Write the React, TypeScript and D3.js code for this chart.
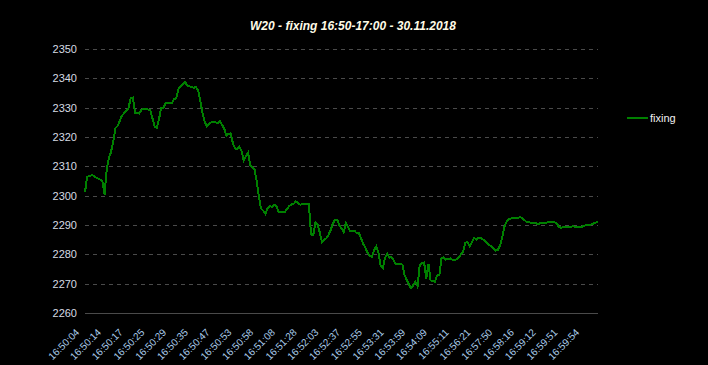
import React, { useEffect, useRef } from 'react';
import * as d3 from 'd3';

const title = 'W20 - fixing 16:50-17:00 - 30.11.2018';
const seriesName = 'fixing';

// every 10th point gets a time label
const timeLabels = [
  '16:50:04', '16:50:14', '16:50:17', '16:50:25', '16:50:29', '16:50:35',
  '16:50:47', '16:50:53', '16:50:58', '16:51:08', '16:51:28', '16:52:03',
  '16:52:37', '16:52:55', '16:53:31', '16:53:59', '16:54:09', '16:55:11',
  '16:56:21', '16:57:50', '16:58:16', '16:59:12', '16:59:51', '16:59:54',
];
const labelEvery = 10;

const yTicks = [2260, 2270, 2280, 2290, 2300, 2310, 2320, 2330, 2340, 2350];

const fixing = [
  2301.2, 2306.5, 2306.6, 2307.0, 2306.8, 2306.2, 2305.8, 2305.5, 2305.0, 2300.4,
  2309.0, 2312.8, 2315.0, 2318.5, 2323.0, 2323.8, 2325.5, 2327.3, 2328.1, 2329.0,
  2329.8, 2333.2, 2333.4, 2328.3, 2328.3, 2328.0, 2329.3, 2329.5, 2329.5, 2329.4,
  2329.2, 2326.5, 2323.6, 2323.2, 2325.9, 2329.8, 2329.8, 2331.4, 2331.6, 2331.5,
  2331.6, 2332.9, 2333.2, 2336.4, 2337.3, 2338.1, 2338.8, 2337.6, 2337.3, 2337.1,
  2336.8, 2337.0, 2336.0, 2332.5, 2328.5, 2325.3, 2323.6, 2324.5, 2325.0, 2325.2,
  2325.0, 2324.7, 2325.5, 2324.1, 2323.0, 2320.5, 2321.0, 2321.2, 2318.0, 2316.1,
  2315.9, 2316.7, 2315.3, 2312.0, 2313.5, 2314.6, 2310.4, 2309.6, 2308.9, 2305.0,
  2299.5, 2295.6, 2294.9, 2293.8, 2295.8, 2296.4, 2296.2, 2296.9, 2296.5, 2294.5,
  2294.5, 2294.6, 2294.5, 2295.5, 2296.5, 2297.0, 2297.2, 2298.0, 2297.6, 2296.9,
  2297.2, 2297.2, 2297.2, 2297.1, 2286.8, 2286.6, 2290.8, 2290.2, 2287.5, 2284.1,
  2285.0, 2285.4, 2286.6, 2288.2, 2290.5, 2291.8, 2291.8, 2290.0, 2288.8, 2287.6,
  2290.6, 2289.4, 2287.8, 2288.0, 2288.0, 2287.2, 2287.2, 2285.5, 2283.6, 2282.2,
  2280.5, 2279.5, 2279.2, 2281.5, 2282.7, 2280.5, 2276.0, 2275.3, 2278.8, 2280.2,
  2278.9, 2279.1, 2278.0, 2276.6, 2276.7, 2276.8, 2276.5, 2273.0, 2271.2, 2269.8,
  2268.4, 2269.5, 2270.7, 2269.1, 2276.4, 2277.0, 2277.2, 2271.8, 2276.8, 2271.1,
  2270.9, 2270.7, 2272.8, 2272.9, 2278.7, 2279.0, 2278.2, 2278.4, 2278.6, 2278.2,
  2278.1, 2278.3, 2279.0, 2280.0, 2281.0, 2284.0, 2284.2, 2282.8, 2284.2, 2285.7,
  2285.0, 2285.7, 2285.6, 2285.1, 2284.6, 2283.9, 2283.2, 2282.6, 2282.0, 2281.3,
  2281.6, 2283.2, 2285.9, 2289.5, 2291.2, 2292.0, 2292.2, 2292.3, 2292.3, 2292.3,
  2292.7, 2292.5, 2291.8, 2291.1, 2290.9, 2290.8, 2290.8, 2290.7, 2290.4, 2290.5,
  2290.6, 2290.7, 2290.8, 2290.9, 2291.1, 2291.0, 2290.9, 2290.6, 2289.3, 2289.1,
  2289.2, 2289.3, 2289.4, 2289.4, 2289.5, 2289.5, 2289.4, 2289.2, 2289.2, 2289.5,
  2289.8, 2290.0, 2290.1, 2290.2, 2290.5, 2290.8, 2291.1,
];

const width = 708;
const height = 365;
const margin = { top: 49, right: 110, bottom: 52, left: 85 };
const font = "Arial, 'Liberation Sans', sans-serif";

const App: React.FC = () => {
  const svgRef = useRef<SVGSVGElement>(null);

  useEffect(() => {
    if (!svgRef.current) return;

    d3.select(svgRef.current).selectAll('*').remove();

    const svg = d3.select(svgRef.current)
      .attr('width', width)
      .attr('height', height);

    svg.append('rect')
      .attr('width', width)
      .attr('height', height)
      .attr('fill', '#000');

    const x = d3.scaleLinear()
      .domain([0, fixing.length - 1])
      .range([margin.left, width - margin.right]);

    const y = d3.scaleLinear()
      .domain([yTicks[0], yTicks[yTicks.length - 1]])
      .range([height - margin.bottom, margin.top]);

    // title
    svg.append('text')
      .attr('x', 353)
      .attr('y', 30)
      .attr('text-anchor', 'middle')
      .style('font-family', font)
      .style('font-size', '12px')
      .style('font-weight', 'bold')
      .style('font-style', 'italic')
      .attr('fill', '#fffbe6')
      .text(title);

    // horizontal grid, bottom one solid
    svg.selectAll('.grid')
      .data(yTicks)
      .enter()
      .append('line')
      .attr('class', 'grid')
      .attr('x1', x(0))
      .attr('x2', x(fixing.length - 1))
      .attr('y1', d => Math.round(y(d)) + 0.5)
      .attr('y2', d => Math.round(y(d)) + 0.5)
      .attr('stroke', '#4a4a4a')
      .attr('stroke-width', 1)
      .attr('stroke-dasharray', (_, i) => (i === 0 ? null : '4,4'));

    // y labels
    svg.selectAll('.ylab')
      .data(yTicks)
      .enter()
      .append('text')
      .attr('class', 'ylab')
      .attr('x', 77)
      .attr('y', d => y(d))
      .attr('dy', '0.35em')
      .attr('text-anchor', 'end')
      .style('font-family', font)
      .style('font-size', '11px')
      .attr('fill', '#d6dbe4')
      .text(d => d);

    // x labels, rotated
    svg.selectAll('.xlab')
      .data(timeLabels)
      .enter()
      .append('text')
      .attr('class', 'xlab')
      .attr('transform', (_, i) => `translate(${x(i * labelEvery) - 5},${333}) rotate(-45)`)
      .attr('text-anchor', 'end')
      .style('font-family', font)
      .style('font-size', '10px')
      .attr('fill', '#a9cbea')
      .text(d => d);

    const line = d3.line<number>()
      .x((_, i) => x(i))
      .y(d => y(d));

    // aliased look like the original
    svg.append('path')
      .datum(fixing)
      .attr('d', line)
      .attr('fill', 'none')
      .attr('stroke', '#008000')
      .attr('stroke-width', 2)
      .attr('shape-rendering', 'crispEdges');

    // legend
    const legend = svg.append('g').attr('transform', 'translate(627,118)');
    legend.append('line')
      .attr('x1', 0)
      .attr('x2', 21)
      .attr('stroke', '#008000')
      .attr('stroke-width', 2)
      .attr('shape-rendering', 'crispEdges');
    legend.append('text')
      .attr('x', 23)
      .attr('y', 4)
      .style('font-family', font)
      .style('font-size', '11px')
      .attr('fill', '#f0f0f0')
      .text(seriesName);
  }, []);

  return (
    <>
      <style>{'body{margin:0;background:#000}'}</style>
      <svg ref={svgRef} style={{ display: 'block' }} />
    </>
  );
};

export default App;
